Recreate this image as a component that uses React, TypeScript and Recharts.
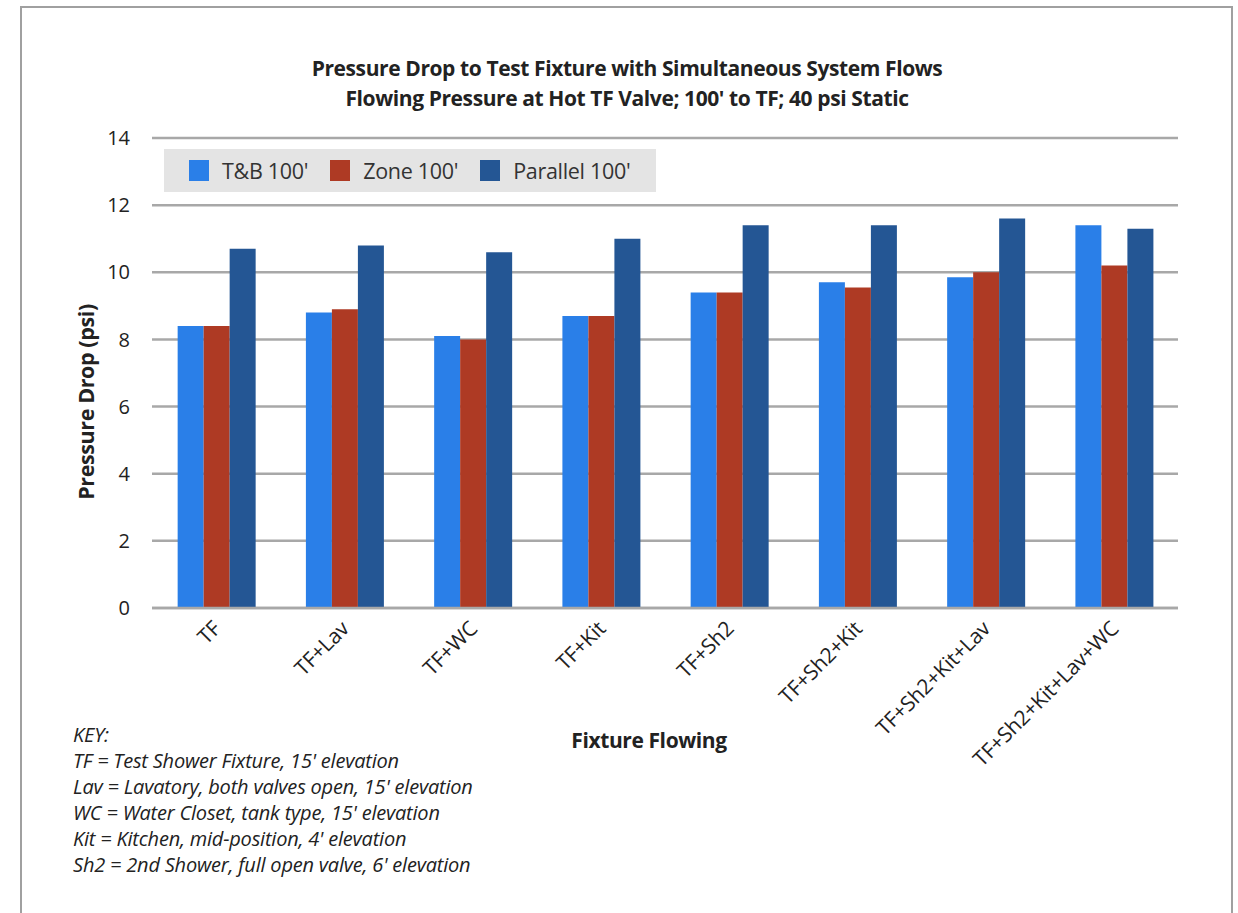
import React from "react";
import { BarChart, Bar, XAxis, YAxis, CartesianGrid } from "recharts";

const fixtures = [
  "TF",
  "TF+Lav",
  "TF+WC",
  "TF+Kit",
  "TF+Sh2",
  "TF+Sh2+Kit",
  "TF+Sh2+Kit+Lav",
  "TF+Sh2+Kit+Lav+WC",
];
const tbValues = [8.4, 8.8, 8.1, 8.7, 9.4, 9.7, 9.85, 11.4];
const zoneValues = [8.4, 8.9, 8.0, 8.7, 9.4, 9.55, 10.0, 10.2];
const parallelValues = [10.7, 10.8, 10.6, 11.0, 11.4, 11.4, 11.6, 11.3];
const yTicks = [0, 2, 4, 6, 8, 10, 12, 14];

const seriesNames = ["T&B 100'", "Zone 100'", "Parallel 100'"];
const colors = ["#2a7fe8", "#ae3a24", "#245694"];

const keyLines = [
  "KEY:",
  "TF = Test Shower Fixture, 15' elevation",
  "Lav = Lavatory, both valves open, 15' elevation",
  "WC = Water Closet, tank type, 15' elevation",
  "Kit = Kitchen, mid-position, 4' elevation",
  "Sh2 = 2nd Shower, full open valve, 6' elevation",
];

const data = fixtures.map((name, i) => ({
  name,
  tb: tbValues[i],
  zone: zoneValues[i],
  parallel: parallelValues[i],
}));

const font = "'Open Sans', 'DejaVu Sans', sans-serif";

function XTick(props: any) {
  const { x, y, payload } = props;
  const ax = x + 6;
  const ay = y + 14;
  return (
    <text
      x={ax}
      y={ay}
      textAnchor="end"
      fontSize={21}
      fontFamily={font}
      letterSpacing={-0.2}
      fill="#222"
      transform={`rotate(-45, ${ax}, ${ay})`}
    >
      {payload.value}
    </text>
  );
}

function LegendBox() {
  return (
    <div
      style={{
        position: "absolute",
        left: 164,
        top: 149,
        width: 492,
        height: 43,
        display: "flex",
        alignItems: "center",
        background: "#e4e4e4",
        fontFamily: font,
        fontSize: 21.5,
        color: "#333",
        letterSpacing: -0.3,
        paddingLeft: 25,
        boxSizing: "border-box",
      }}
    >
      {seriesNames.map((s, i) => (
        <span key={s} style={{ display: "flex", alignItems: "center", marginRight: 22 }}>
          <span style={{ width: 20, height: 21, background: colors[i], marginRight: 13 }} />
          {s}
        </span>
      ))}
    </div>
  );
}

export default function App() {
  return (
    <div style={{ position: "absolute", left: 0, top: 0, width: 1238, height: 913, background: "#fff", overflow: "hidden" }}>
      <div
        style={{
          position: "absolute",
          left: 20,
          top: 6,
          width: 1213,
          height: 960,
          border: "2px solid #a0a0a0",
          boxSizing: "border-box",
        }}
      />
      <div
        style={{
          position: "absolute",
          left: 0,
          width: 1254,
          top: 53,
          textAlign: "center",
          fontFamily: font,
          fontWeight: 700,
          fontSize: 21,
          lineHeight: "30px",
          letterSpacing: -0.4,
          color: "#222",
        }}
      >
        <div>Pressure Drop to Test Fixture with Simultaneous System Flows</div>
        <div>Flowing Pressure at Hot TF Valve; 100' to TF; 40 psi Static</div>
      </div>
      <div
        style={{
          position: "absolute",
          left: 85,
          top: 402,
          transform: "translate(-50%, -50%) rotate(-90deg)",
          whiteSpace: "nowrap",
          fontFamily: font,
          fontWeight: 700,
          fontSize: 21.5,
          letterSpacing: -0.4,
          color: "#222",
        }}
      >
        Pressure Drop (psi)
      </div>
      <div
        style={{
          position: "absolute",
          left: 649,
          top: 740,
          transform: "translate(-50%, -50%)",
          whiteSpace: "nowrap",
          fontFamily: font,
          fontWeight: 700,
          fontSize: 21,
          letterSpacing: -0.4,
          color: "#222",
        }}
      >
        Fixture Flowing
      </div>
      <div
        style={{
          position: "absolute",
          left: 73,
          top: 722,
          fontFamily: font,
          fontStyle: "italic",
          fontSize: 20,
          lineHeight: "26px",
          letterSpacing: -0.2,
          color: "#222",
          whiteSpace: "nowrap",
        }}
      >
        {keyLines.map((l) => (
          <div key={l}>{l}</div>
        ))}
      </div>
      <div style={{ position: "absolute", left: 0, top: 0 }}>
        <BarChart
          width={1238}
          height={913}
          data={data}
          margin={{ top: 138, right: 60, left: 0, bottom: 0 }}
          barCategoryGap="20%"
          barGap={0}
        >
          <CartesianGrid vertical={false} stroke="#a8a8a8" strokeWidth={2.5} />
          <XAxis
            dataKey="name"
            interval={0}
            height={305}
            axisLine={{ stroke: "#a8a8a8", strokeWidth: 2.5 }}
            tickLine={false}
            tick={<XTick />}
          />
          <YAxis
            width={152}
            domain={[0, 14]}
            ticks={yTicks}
            axisLine={false}
            tickLine={false}
            tickSize={0}
            tickMargin={22}
            tick={{ fontSize: 20, fontFamily: font, fill: "#222" }}
          />
          <Bar dataKey="tb" name={seriesNames[0]} fill={colors[0]} isAnimationActive={false} />
          <Bar dataKey="zone" name={seriesNames[1]} fill={colors[1]} isAnimationActive={false} />
          <Bar dataKey="parallel" name={seriesNames[2]} fill={colors[2]} isAnimationActive={false} />
        </BarChart>
      </div>
      <LegendBox />
    </div>
  );
}
